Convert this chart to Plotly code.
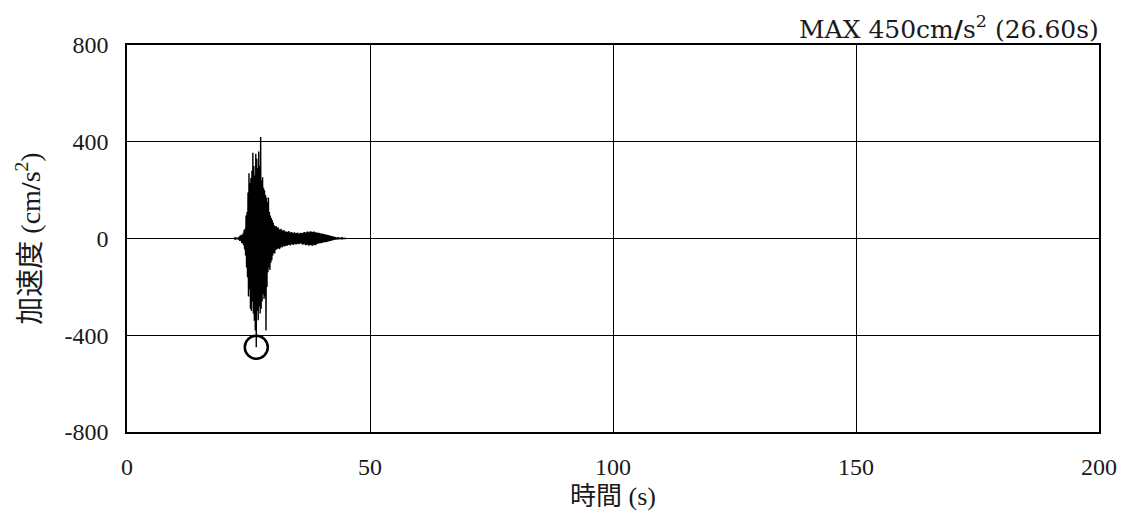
import numpy as np
import plotly.graph_objects as go

# 加速度波形 (0.1s刻み, 22.0s - 45.0s)
T_START = 22.0
T_STEP = 0.1
acc = [
    0, 1, -2, 2, -1, 3, -2, 2, -3, 4,
    -5, 8, -10, 12, -9, 15, -18, 14, -20, 22,
    -28, 35, -45, 40, -70, 95, -120, 110, -160, 190,
    -240, 270, -210, 230, -290, 250, -300, 280, -260, 355,
    -310, 300, -340, 260, -380, 350, -450, 330, -300, 290,
    -338, 360, -280, 300, -310, 420, -290, 240, -260, 253,
    -230, 210, -250, 200, -240, 180, -380, 170, -200, 150,
    -140, 170, -120, 110, -130, 95, -100, 85, -90, 75,
    -70, 65, -60, 55, -62, 50, -48, 52, -45, 44,
    -42, 46, -40, 38, -44, 36, -38, 40, -35, 34,
    -36, 32, -30, 35, -33, 28, -31, 30, -29, 27,
    -30, 28, -26, 31, -27, 25, -29, 26, -24, 27,
    -25, 23, -27, 24, -22, 26, -24, 21, -25, 23,
    -22, 25, -23, 20, -24, 22, -21, 24, -20, 23,
    -24, 22, -26, 25, -23, 27, -25, 24, -28, 26,
    -27, 29, -25, 28, -30, 26, -28, 30, -27, 29,
    -29, 27, -30, 28, -26, 29, -27, 25, -28, 26,
    -24, 25, -22, 23, -21, 24, -20, 22, -19, 21,
    -18, 20, -17, 19, -16, 18, -15, 17, -14, 16,
    -15, 14, -13, 15, -12, 13, -11, 12, -10, 11,
    -9, 10, -8, 9, -7, 8, -6, 7, -5, 6,
    -5, 4, -4, 5, -3, 4, -3, 3, -2, 3,
    -2, 2, -1, 2, -1, 1, -1, 1, 0, 1, 0,
]
time = np.round(T_START + T_STEP * np.arange(len(acc)), 2)

# 最大値
max_time = 26.60
max_acc = -450

x_ticks = [0, 50, 100, 150, 200]
x_ticktext = ["0", "50", "100", "150", "200"]
y_ticks = [-800, -400, 0, 400, 800]
y_ticktext = ["-800", "-400", "0", "400", "800"]

FONT = "'Liberation Serif', 'Noto Sans CJK JP', serif"
TITLE_FONT = "'DejaVu Serif', 'Noto Sans CJK JP', serif"
INK = "#1a1a1a"

fig = go.Figure()
fig.add_trace(go.Scatter(
    x=time, y=acc, mode="lines",
    line=dict(color="black", width=1.4),
    hoverinfo="skip", showlegend=False,
))
fig.add_trace(go.Scatter(
    x=[max_time], y=[max_acc], mode="markers",
    marker=dict(symbol="circle-open", size=23, color="black",
                line=dict(color="black", width=2.5)),
    showlegend=False,
))

# ページ本体の余白 (8px) を差し引いたサイズ
fig.update_layout(
    width=1124, height=510,
    margin=dict(l=119, r=33, t=37, b=86),
    paper_bgcolor="white", plot_bgcolor="white",
    font=dict(family=FONT, size=24, color=INK),
    annotations=[dict(
        text="MAX 450cm<b>/</b>s<sup>2</sup> (26.60s)",
        xref="paper", yref="paper", x=1, y=1.0,
        xanchor="right", yanchor="bottom", yshift=-1, xshift=2,
        showarrow=False, font=dict(family=TITLE_FONT, size=25, color=INK),
    )],
)
fig.update_xaxes(
    range=[0, 200], tickvals=x_ticks, ticktext=x_ticktext,
    showgrid=True, gridcolor="black", gridwidth=1.3,
    showline=True, linecolor="black", linewidth=1.5, mirror=True,
    zeroline=False, ticks="", ticklabelstandoff=12,
    title=dict(text="時間 (s)", font=dict(family=FONT, size=26, color=INK), standoff=8),
)
fig.update_yaxes(
    range=[-800, 800], tickvals=y_ticks, ticktext=y_ticktext,
    showgrid=True, gridcolor="black", gridwidth=1.3,
    showline=True, linecolor="black", linewidth=1.5, mirror=True,
    zeroline=False, ticks="", ticklabelstandoff=12,
    title=dict(text="加速度 (cm<b>/</b>s<sup>2</sup>)",
               font=dict(family=FONT, size=28, color=INK), standoff=16),
)

fig.write_html("out.html")
